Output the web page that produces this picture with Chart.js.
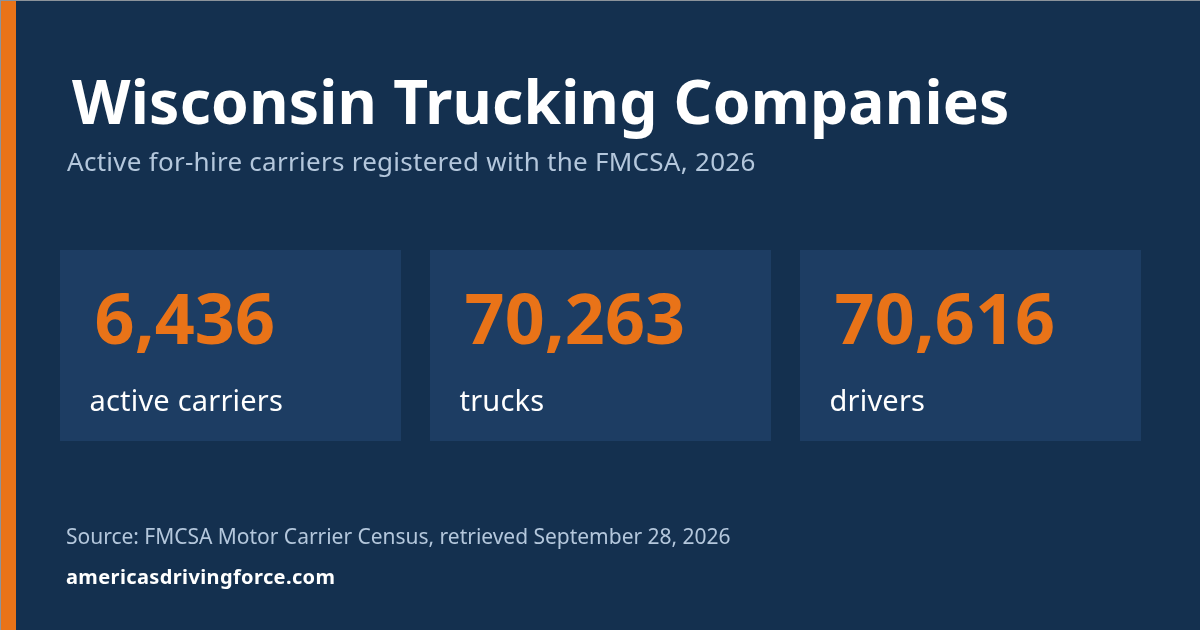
<!DOCTYPE html>
<html><head><meta charset="utf-8">
<style>html,body{margin:0;padding:0;background:#14304f}canvas{display:block}</style>
<script src="https://cdn.jsdelivr.net/npm/chart.js@4"></script></head>
<body><div style="width:1200px;height:630px"><canvas id="c" width="1200" height="630"></canvas></div>
<script>
const titleText = "Wisconsin Trucking Companies";
const subtitleText = "Active for-hire carriers registered with the FMCSA, 2026";
const categories = ["active carriers", "trucks", "drivers"];
const metricValues = [6436, 70263, 70616];
const panelExtent = [1, 1, 1];
const sourceText = "Source: FMCSA Motor Carrier Census, retrieved September 28, 2026";
const siteText = "americasdrivingforce.com";
const FF = '"Noto Sans"';
const fmt = n => n.toLocaleString("en-US");
const textPlugin = {
  id: "kpiText",
  beforeDraw(chart) {
    const c = chart.ctx;
    c.save();
    c.fillStyle = "#14304f"; c.fillRect(0, 0, 1200, 630);
    c.fillStyle = "#e97318"; c.fillRect(1, 1, 15, 629);
    c.fillStyle = "#8c939b"; c.fillRect(0, 0, 1200, 1); c.fillRect(0, 0, 1, 630);
    c.restore();
  },
  afterDatasetsDraw(chart) {
    const c = chart.ctx, x = chart.scales.x;
    const put = (t, px, py, font, col, ls) => {
      c.font = font + " " + FF; c.fillStyle = col; c.letterSpacing = (ls || 0) + "px";
      c.fillText(t, px, py);
    };
    c.save();
    c.textBaseline = "alphabetic"; c.textAlign = "left";
    put(titleText, 72, 124, "bold 60.5px", "#ffffff", 0.23);
    put(subtitleText, 67, 171, "26px", "#b4c7dc", 0.27);
    categories.forEach((cat, i) => {
      const left = x.getPixelForValue(i) - 170.5;
      put(fmt(metricValues[i]), left + 34.5, 344, "bold 70px", "#e97318", 0.1);
      put(cat, left + 29.5, 411, "29px", "#ffffff", 0.2);
    });
    put(sourceText, 66, 544, "21px", "#b4c7dc", -0.02);
    put(siteText, 66, 584, "bold 20px", "#ffffff", 0.38);
    c.restore();
  }
};
new Chart(document.getElementById("c"), {
  type: "bar",
  data: { labels: categories, datasets: [{ data: panelExtent, backgroundColor: "#1d3d63",
    barPercentage: 341 / 370, categoryPercentage: 1, borderWidth: 0 }] },
  options: {
    responsive: false, animation: false, devicePixelRatio: 1,
    layout: { padding: { left: 45.5, right: 44.5, top: 250, bottom: 189 } },
    plugins: { legend: { display: false }, tooltip: { enabled: false }, title: { display: false } },
    scales: {
      x: { display: false },
      y: { display: false, min: 0, max: 1 }
    }
  },
  plugins: [textPlugin]
});
</script></body></html>
